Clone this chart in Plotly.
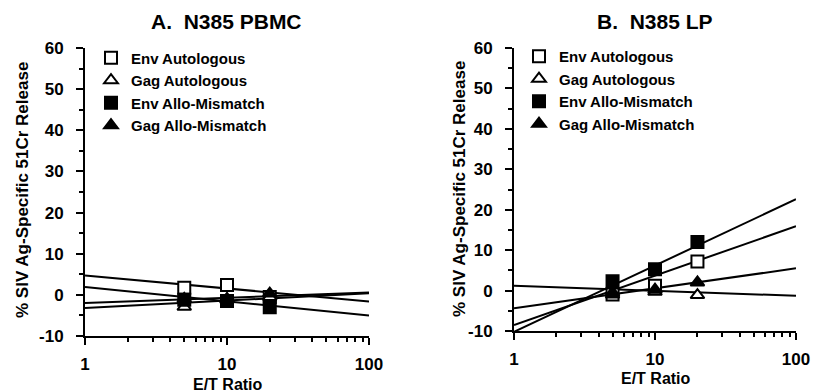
import plotly.graph_objects as go

# ---------------- data ----------------
et_ratio = [5, 10, 20]
series_names = ["Env Autologous", "Gag Autologous", "Env Allo-Mismatch", "Gag Allo-Mismatch"]

pbmc_env_auto = [1.7, 2.4, -0.5]
pbmc_gag_auto = [-2.9, -1.2, -0.5]
pbmc_env_allo = [-1.2, -1.5, -3.0]
pbmc_gag_allo = [-1.0, -1.0, 0.3]

lp_env_auto = [-1.0, 1.2, 7.2]
lp_gag_auto = [-0.5, -0.3, -1.1]
lp_env_allo = [2.3, 5.3, 12.0]
lp_gag_allo = [-1.0, 0.2, 2.0]

# regression lines: value at E/T = 1 and E/T = 100 (order as series_names)
fit_x = [1, 100]
pbmc_fit_at_1 = [4.7, -3.2, 1.9, -2.0]
pbmc_fit_at_100 = [-1.6, 0.4, -5.0, 0.6]
lp_fit_at_1 = [-8.5, 1.2, -10.2, -4.4]
lp_fit_at_100 = [15.9, -1.3, 22.6, 5.5]

x_tickvals = [1, 10, 100]
x_ticktext = ["1", "10", "100"]
y_tickvals = [-10, 0, 10, 20, 30, 40, 50, 60]
y_ticktext = ["-10", "0", "10", "20", "30", "40", "50", "60"]

titles = ["A.  N385 PBMC", "B.  N385 LP"]
y_title = "% SIV Ag-Specific 51Cr Release"
x_title = "E/T Ratio"

# ---------------- styling ----------------
FONT = "Liberation Sans, Arial, Helvetica, sans-serif"
symbols = ["square-open", "triangle-up-open", "square", "triangle-up"]
W, H = 828, 392

fig = go.Figure()

panels = [
    dict(vals=[pbmc_env_auto, pbmc_gag_auto, pbmc_env_allo, pbmc_gag_allo],
         f1=pbmc_fit_at_1, f100=pbmc_fit_at_100, xa="x", ya="y", legend="legend"),
    dict(vals=[lp_env_auto, lp_gag_auto, lp_env_allo, lp_gag_allo],
         f1=lp_fit_at_1, f100=lp_fit_at_100, xa="x2", ya="y2", legend="legend2"),
]

for p in panels:
    for i in range(4):
        fig.add_trace(go.Scatter(
            x=fit_x, y=[p["f1"][i], p["f100"][i]], mode="lines",
            line=dict(color="black", width=2), xaxis=p["xa"], yaxis=p["ya"],
            showlegend=False, hoverinfo="skip"))
    for i in range(4):
        open_sym = "open" in symbols[i]
        fig.add_trace(go.Scatter(
            x=et_ratio, y=p["vals"][i], mode="markers", name=series_names[i],
            marker=dict(symbol=symbols[i].replace("-open", ""), size=12,
                        color="white" if open_sym else "black",
                        line=dict(color="black", width=2)),
            xaxis=p["xa"], yaxis=p["ya"], legend=p["legend"], cliponaxis=False))

def px_x(v):
    return v / W

def px_y(v):
    return 1 - v / H

axis_common = dict(showline=True, linecolor="black", linewidth=2, mirror=False,
                   showgrid=False, zeroline=False, ticks="outside", ticklen=7,
                   tickwidth=2, tickcolor="black", automargin=False,
                   tickfont=dict(family=FONT, size=17, color="black", weight="bold"))

dom = {
    "x": (85, 369), "y": (48, 336),
    "x2": (514, 796), "y2": (48, 331),
}

layout = dict(
    width=W, height=H, margin=dict(l=0, r=0, t=0, b=0, autoexpand=False),
    paper_bgcolor="white", plot_bgcolor="white", showlegend=True,
)
for key, yk, anchor in [("xaxis", "y", "x"), ("xaxis2", "y2", "x2")]:
    d = dom[anchor]
    layout[key] = dict(axis_common, type="log", range=[0, 2],
                       domain=[px_x(d[0]), px_x(d[1])], anchor=yk,
                       tickvals=x_tickvals, ticktext=x_ticktext,
                       ticklabelstandoff=5,
                       minor=dict(ticks="outside", ticklen=4, tickwidth=2,
                                  tickcolor="black", dtick="D1", showgrid=False))
for key, xk, anchor in [("yaxis", "x", "y"), ("yaxis2", "x2", "y2")]:
    d = dom[anchor]
    layout[key] = dict(axis_common, range=[-10, 60],
                       domain=[px_y(d[1]), px_y(d[0])], anchor=xk,
                       tickvals=y_tickvals, ticktext=y_ticktext,
                       ticklabelstandoff=9,
                       minor=dict(ticks="outside", ticklen=4, tickwidth=2,
                                  tickcolor="black", dtick=5, showgrid=False))

leg_common = dict(xanchor="left", yanchor="top", bgcolor="rgba(0,0,0,0)",
                  font=dict(family=FONT, size=15, color="black", weight="bold"),
                  tracegroupgap=0, itemclick=False)
layout["legend"] = dict(leg_common, x=px_x(91), y=px_y(41.5))
layout["legend2"] = dict(leg_common, x=px_x(519), y=px_y(40))

fig.update_layout(**layout)

tfont = dict(family=FONT, size=21, color="black", weight="bold")
afont = dict(family=FONT, size=17, color="black", weight="bold")
xfont = dict(family=FONT, size=16, color="black", weight="bold")
ann = []
for t, cx in zip(titles, [226, 655]):
    ann.append(dict(text=t, x=px_x(cx), y=px_y(21), xref="paper", yref="paper",
                    showarrow=False, font=tfont, xanchor="center", yanchor="middle"))
for cx, cy in [(23, 190), (459, 189)]:
    ann.append(dict(text=y_title, x=px_x(cx), y=px_y(cy), xref="paper", yref="paper",
                    showarrow=False, font=afont, textangle=-90,
                    xanchor="center", yanchor="middle"))
for cx, cy in [(228, 384), (656, 378)]:
    ann.append(dict(text=x_title, x=px_x(cx), y=px_y(cy), xref="paper", yref="paper",
                    showarrow=False, font=xfont, xanchor="center", yanchor="middle"))
fig.update_layout(annotations=ann)

fig.write_html("out.html")
